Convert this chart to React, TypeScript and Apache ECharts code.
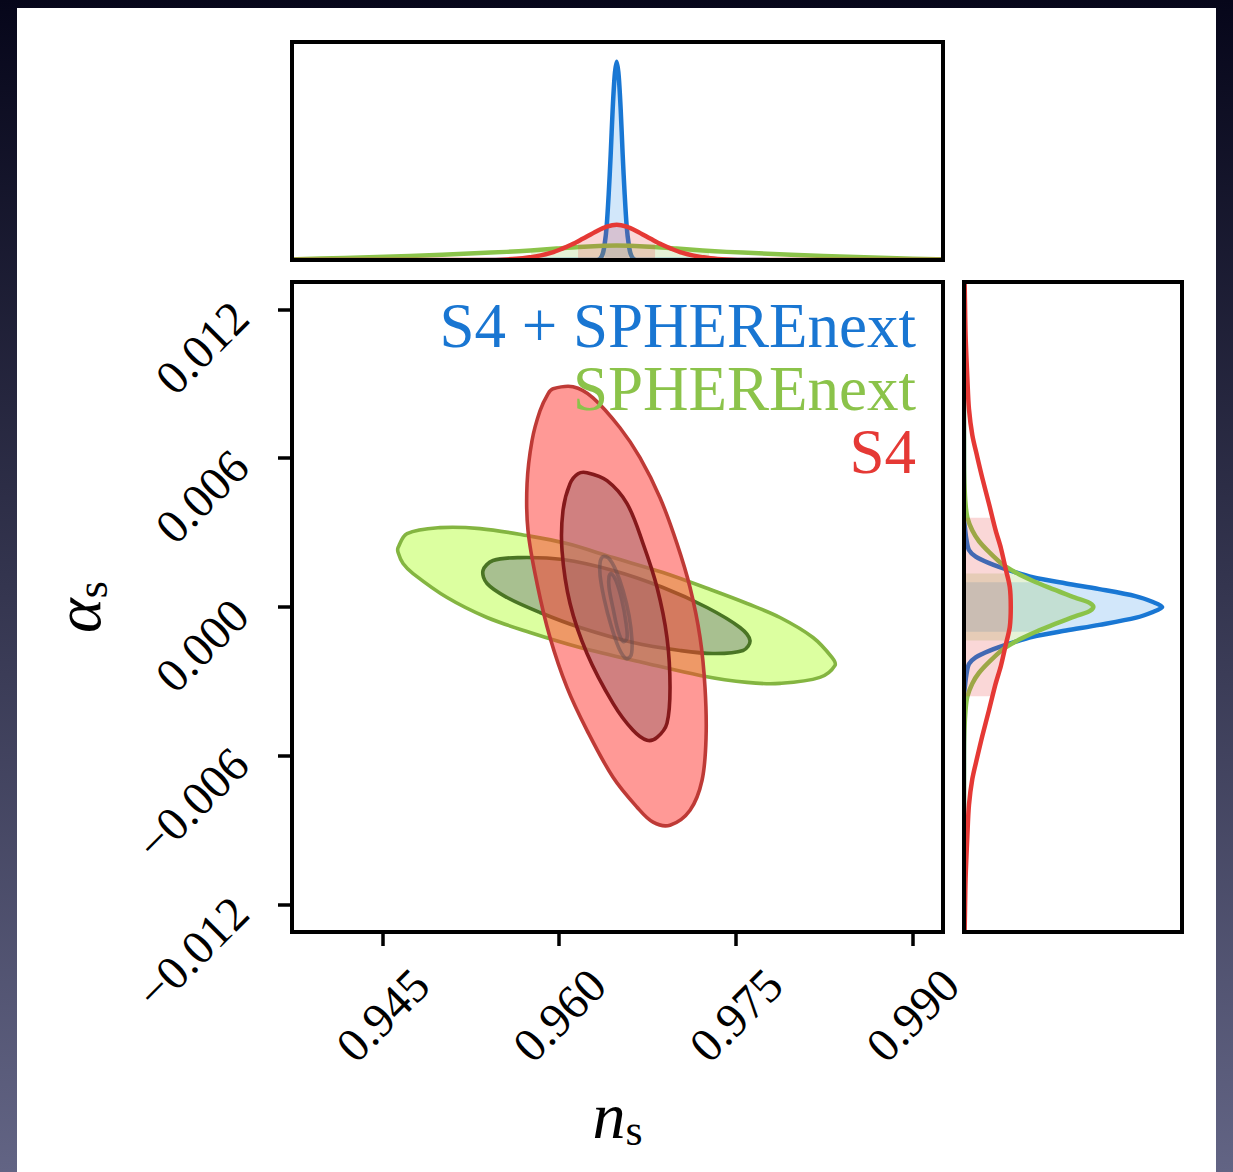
import React, { useEffect, useRef } from "react";
import * as echarts from "echarts";

// ---------- axes ----------
const NS_MIN = 0.93731;
const NS_MAX = 0.99259;
const AS_MIN = -0.0131;
const AS_MAX = 0.0131;
const NS_TICKS = [0.945, 0.96, 0.975, 0.99];
const AS_TICKS = [-0.012, -0.006, 0, 0.006, 0.012];
const DENS_MAX = 1.1;

// ---------- 2D contours [n_s, alpha_s] ----------
const greenOuter = [
  [0.94632, 0.002395], [0.94708, 0.002958], [0.94988, 0.0032], [0.95328, 0.00316],
  [0.95727, 0.002878], [0.96066, 0.002556], [0.96457, 0.001992], [0.96881, 0.001389],
  [0.97306, 0.000664], [0.97595, 0.000141], [0.97875, -0.000423], [0.98155, -0.001228],
  [0.98316, -0.002033], [0.98342, -0.002355], [0.98214, -0.002838], [0.97875, -0.003079],
  [0.97595, -0.003039], [0.97196, -0.002757], [0.96746, -0.002274], [0.96177, -0.00163],
  [0.95752, -0.001026], [0.95387, -0.000423], [0.95048, 0.000382], [0.94759, 0.001348],
  [0.94674, 0.001751], [0.94632, 0.002194],
];
const greenInner = [
  [0.95353, 0.001469], [0.95438, 0.001872], [0.95667, 0.001992], [0.96032, 0.001912],
  [0.96457, 0.001469], [0.96881, 0.000785], [0.97255, -0.00002], [0.97535, -0.000825],
  [0.9762, -0.001348], [0.97561, -0.001751], [0.97306, -0.001872], [0.97026, -0.001751],
  [0.96627, -0.001429], [0.96177, -0.000825], [0.95837, -0.000221], [0.95557, 0.000382],
  [0.95387, 0.000946],
];
const redOuter = [
  [0.95948, 0.008795], [0.96117, 0.008875], [0.96287, 0.008432], [0.96516, 0.007225],
  [0.96686, 0.006017], [0.96856, 0.004407], [0.97, 0.002556], [0.97111, 0.000785],
  [0.97196, -0.001228], [0.97238, -0.00324], [0.97247, -0.005253], [0.97213, -0.006983],
  [0.97111, -0.008191], [0.96941, -0.008795], [0.96797, -0.008674], [0.96661, -0.00807],
  [0.96457, -0.006863], [0.96236, -0.004971], [0.96066, -0.00324], [0.95922, -0.001228],
  [0.95812, 0.000946], [0.95735, 0.003079], [0.95727, 0.004971], [0.95769, 0.006702],
  [0.95837, 0.007909], [0.95905, 0.008593],
];
const redInner = [
  [0.96236, 0.005414], [0.96406, 0.005092], [0.96576, 0.004166], [0.96712, 0.002556],
  [0.96831, 0.000785], [0.96915, -0.001228], [0.96941, -0.00324], [0.96915, -0.004689],
  [0.96831, -0.005253], [0.96746, -0.005373], [0.96627, -0.004971], [0.96457, -0.003884],
  [0.96236, -0.001872], [0.96092, 0.000141], [0.96024, 0.002274], [0.96032, 0.003884],
  [0.96092, 0.004971], [0.9616, 0.005373],
];
const blueOuter = [
  [0.96372, 0.002033], [0.96423, 0.001952], [0.96482, 0.001469], [0.96542, 0.000664],
  [0.96593, -0.000342], [0.96618, -0.001348], [0.9661, -0.001952], [0.96567, -0.002073],
  [0.96508, -0.00167], [0.9644, -0.000745], [0.96381, 0.000342], [0.96347, 0.001268],
  [0.96347, 0.001791],
];
const blueInner = [
  [0.9644, 0.001348], [0.96482, 0.001067], [0.96533, 0.000262], [0.96567, -0.000624],
  [0.96576, -0.001268], [0.96542, -0.001389], [0.96499, -0.000946], [0.96457, -0.00006],
  [0.96423, 0.000785], [0.96423, 0.001228],
];

// ---------- 1D marginal of n_s (top panel) ----------
const NS_BLUE_X = [0.93731, 0.96301, 0.96344, 0.96369, 0.96386, 0.96403, 0.9642, 0.96437, 0.96454, 0.96471, 0.96488, 0.96505, 0.96522, 0.96539, 0.96556, 0.96573, 0.9659, 0.96607, 0.96632, 0.96675, 0.99259];
const NS_BLUE_Y = [0, 0, 0.005, 0.03, 0.08, 0.17, 0.33, 0.53, 0.76, 0.93, 1.0, 0.93, 0.76, 0.53, 0.33, 0.17, 0.08, 0.03, 0.005, 0, 0];
const NS_GREEN_X = [0.93731, 0.93771, 0.94179, 0.94731, 0.95282, 0.95554, 0.95758, 0.95979, 0.96165, 0.96335, 0.96488, 0.96641, 0.96811, 0.96997, 0.97218, 0.97422, 0.97694, 0.98245, 0.98797, 0.99205, 0.99259];
const NS_GREEN_Y = [0.003, 0.004, 0.01, 0.02, 0.034, 0.041, 0.048, 0.058, 0.066, 0.071, 0.073, 0.071, 0.066, 0.058, 0.048, 0.041, 0.034, 0.02, 0.01, 0.004, 0.003];
const NS_RED_X = [0.93731, 0.95384, 0.95554, 0.9569, 0.95834, 0.95936, 0.96021, 0.96106, 0.96199, 0.96318, 0.96403, 0.96488, 0.96573, 0.96658, 0.96777, 0.9687, 0.96955, 0.9704, 0.97142, 0.97286, 0.97422, 0.97592, 0.99259];
const NS_RED_Y = [0, 0, 0.003, 0.009, 0.022, 0.037, 0.056, 0.078, 0.107, 0.145, 0.168, 0.178, 0.168, 0.145, 0.107, 0.078, 0.056, 0.037, 0.022, 0.009, 0.003, 0, 0];
const NS_BLUE_BAND = [0.96386, 0.9659];
const NS_GREEN_BAND = [0.95761, 0.97272];
const NS_RED_BAND = [0.9616, 0.96814];

// ---------- 1D marginal of alpha_s (right panel) ----------
const AS_BLUE_A = [-0.0131, -0.0036, -0.0031, -0.00273, -0.0023, -0.00203, -0.00177, -0.00148, -0.0012, -0.00095, -0.00072, -0.00043, -0.00021, 0, 0.00021, 0.00043, 0.00072, 0.00095, 0.0012, 0.00148, 0.00177, 0.00203, 0.0023, 0.00273, 0.0031, 0.0036, 0.0131];
const AS_BLUE_D = [0, 0, 0.006, 0.012, 0.025, 0.059, 0.127, 0.228, 0.346, 0.515, 0.683, 0.869, 0.95, 1.0, 0.95, 0.869, 0.683, 0.515, 0.346, 0.228, 0.127, 0.059, 0.025, 0.012, 0.006, 0, 0];
const AS_GREEN_A = [-0.0131, -0.006, -0.005, -0.00413, -0.00361, -0.00308, -0.00265, -0.00221, -0.00172, -0.00139, -0.00106, -0.00078, -0.0005, -0.00035, -0.0002, -0.0001, 0, 0.0001, 0.0002, 0.00035, 0.0005, 0.00078, 0.00106, 0.00139, 0.00172, 0.00221, 0.00265, 0.00308, 0.00361, 0.00413, 0.005, 0.006, 0.0131];
const AS_GREEN_D = [0, 0, 0.002, 0.008, 0.017, 0.042, 0.076, 0.127, 0.194, 0.261, 0.346, 0.43, 0.52, 0.57, 0.625, 0.645, 0.653, 0.645, 0.625, 0.57, 0.52, 0.43, 0.346, 0.261, 0.194, 0.127, 0.076, 0.042, 0.017, 0.008, 0.002, 0, 0];
const AS_RED_A = [-0.0131, -0.0127, -0.01095, -0.0092, -0.00798, -0.00693, -0.00605, -0.00518, -0.00413, -0.00308, -0.00238, -0.00151, -0.00081, 0, 0.00081, 0.00151, 0.00238, 0.00308, 0.00413, 0.00518, 0.00605, 0.00693, 0.00798, 0.0092, 0.01095, 0.0127, 0.0131];
const AS_RED_D = [0.003, 0.004, 0.008, 0.017, 0.025, 0.042, 0.067, 0.093, 0.127, 0.16, 0.186, 0.211, 0.231, 0.236, 0.231, 0.211, 0.186, 0.16, 0.127, 0.093, 0.067, 0.042, 0.025, 0.017, 0.008, 0.004, 0.003];
const AS_BLUE_BAND = [-0.001, 0.001];
const AS_GREEN_BAND = [-0.00135, 0.00135];
const AS_RED_BAND = [-0.0036, 0.0036];

// ---------- legend ----------
const LEGEND_LABELS = ["S4 + SPHEREnext", "SPHEREnext", "S4"];
const LEGEND_KEYS = ["b", "g", "r"];

const BLUE = "#1976D2";
const GREEN = "#8BC34A";
const RED = "#E53935";
const LEGEND_COLORS = [BLUE, GREEN, RED];
const FONT = "'Liberation Serif', 'DejaVu Serif', serif";

const zip = (a: number[], b: number[]) => a.map((v, i) => [v, b[i]]);

function bandPoints(ts: number[], vs: number[], lo: number, hi: number) {
  const at = (t: number) => {
    for (let i = 0; i < ts.length - 1; i++) {
      if (t >= ts[i] && t <= ts[i + 1]) {
        const f = (t - ts[i]) / (ts[i + 1] - ts[i]);
        return vs[i] + f * (vs[i + 1] - vs[i]);
      }
    }
    return 0;
  };
  const out: number[][] = [[lo, at(lo)]];
  ts.forEach((t, i) => {
    if (t > lo && t < hi) out.push([t, vs[i]]);
  });
  out.push([hi, at(hi)]);
  return out;
}

function shapeSeries(points: number[][], axis: number, z: number, build: (pts: number[][]) => any) {
  return {
    type: "custom",
    xAxisIndex: axis,
    yAxisIndex: axis,
    z,
    silent: true,
    clip: true,
    data: points,
    renderItem: (params: any, api: any) => {
      if (params.dataIndex !== 0) return null;
      return build(points.map((p) => api.coord(p)));
    },
  };
}

function contourSeries(points: number[][], fill: string, stroke: string, z: number) {
  return shapeSeries(points, 0, z, (pts) => ({
    type: "polygon",
    shape: { points: pts, smooth: 0.35 },
    style: { fill, stroke, lineWidth: 3.6 },
  }));
}

function fillSeries(points: number[][], axis: number, fill: string, z: number) {
  return shapeSeries(points, axis, z, (pts) => ({
    type: "polygon",
    shape: { points: pts },
    style: { fill },
  }));
}

function curveSeries(points: number[][], axis: number, color: string, z: number) {
  return shapeSeries(points, axis, z, (pts) => ({
    type: "polyline",
    shape: { points: pts, smooth: 0.3 },
    style: { fill: "none", stroke: color, lineWidth: 4.5, lineJoin: "round" },
  }));
}

function topFill(xs: number[], ys: number[], band: number[], fill: string, z: number) {
  const pts = [[band[0], 0], ...bandPoints(xs, ys, band[0], band[1]), [band[1], 0]];
  return fillSeries(pts, 1, fill, z);
}

function rightFill(as: number[], ds: number[], band: number[], fill: string, z: number) {
  const bp = bandPoints(as, ds, band[0], band[1]).map((p) => [p[1], p[0]]);
  const pts = [[0, band[0]], ...bp, [0, band[1]]];
  return fillSeries(pts, 2, fill, z);
}

const tickFmt = (v: number) => (v < 0 ? "\u2212" : "") + Math.abs(v).toFixed(3);

const frame = { show: true, borderColor: "#000", borderWidth: 4, backgroundColor: "transparent", z: 10 };

const richName = {
  n: { fontFamily: FONT, fontStyle: "italic", fontSize: 66, color: "#000", padding: [0, 0, 4, 0] },
  s: { fontFamily: FONT, fontSize: 44, color: "#000", verticalAlign: "bottom" },
};

const legendRich: any = {};
LEGEND_KEYS.forEach((k, i) => {
  legendRich[k] = { fill: LEGEND_COLORS[i], fontFamily: FONT, fontSize: 63, lineHeight: 63, align: "right" };
});

const tickLabel = {
  formatter: tickFmt,
  rotate: 45,
  fontFamily: FONT,
  fontSize: 48,
  color: "#000",
};
const tickStyle = { show: true, length: 14, lineStyle: { color: "#000", width: 3.5 } };

const option: any = {
  animation: false,
  grid: [
    { left: 292, top: 282, width: 651, height: 650, ...frame },
    { left: 292, top: 42, width: 651, height: 218, ...frame },
    { left: 964, top: 282, width: 218, height: 650, ...frame },
  ],
  xAxis: [
    {
      gridIndex: 0,
      type: "value",
      min: NS_MIN,
      max: NS_MAX,
      axisLine: { show: false, onZero: false },
      splitLine: { show: false },
      axisTick: { ...tickStyle, customValues: NS_TICKS },
      axisLabel: { ...tickLabel, customValues: NS_TICKS, align: "center", verticalAlign: "middle", margin: 83 },
      name: "{n|n}{s|s}",
      nameLocation: "middle",
      nameGap: 185,
      nameTextStyle: { verticalAlign: "middle", align: "center", rich: richName },
    },
    { gridIndex: 1, type: "value", min: NS_MIN, max: NS_MAX, show: false },
    { gridIndex: 2, type: "value", min: 0, max: DENS_MAX, show: false },
  ],
  yAxis: [
    {
      gridIndex: 0,
      type: "value",
      min: AS_MIN,
      max: AS_MAX,
      axisLine: { show: false, onZero: false },
      splitLine: { show: false },
      axisTick: { ...tickStyle, customValues: AS_TICKS },
      axisLabel: { ...tickLabel, customValues: AS_TICKS, margin: 52, padding: [0, 0, 10, 0] },
      name: "{n|\u03b1}{s|s}",
      nameLocation: "middle",
      nameRotate: 90,
      nameGap: 213,
      nameTextStyle: { verticalAlign: "middle", align: "center", rich: richName },
    },
    { gridIndex: 1, type: "value", min: 0, max: DENS_MAX, show: false },
    { gridIndex: 2, type: "value", min: AS_MIN, max: AS_MAX, show: false },
  ],
  graphic: [
    {
      type: "text",
      x: 916,
      y: 294,
      z: 50,
      silent: true,
      style: {
        text: LEGEND_LABELS.map((l, i) => `{${LEGEND_KEYS[i]}|${l}}`).join("\n"),
        rich: legendRich,
        fontFamily: FONT,
        fontSize: 63,
        lineHeight: 63,
        align: "right",
        verticalAlign: "top",
      },
    },
  ],
  series: [
    // main panel contours
    contourSeries(greenOuter, "rgba(185,255,65,0.5)", "#84B541", 2),
    contourSeries(greenInner, "rgba(116,130,128,0.5)", "#4A7524", 3),
    contourSeries(redOuter, "rgba(255,51,45,0.5)", "#BE3A36", 4),
    contourSeries(redInner, "rgba(161,103,106,0.5)", "#85191B", 5),
    contourSeries(blueOuter, "rgba(90,80,100,0.08)", "rgba(100,75,80,0.5)", 6),
    contourSeries(blueInner, "rgba(90,80,100,0.08)", "rgba(100,75,80,0.5)", 7),
    // top marginal
    curveSeries(zip(NS_BLUE_X, NS_BLUE_Y), 1, BLUE, 3),
    topFill(NS_BLUE_X, NS_BLUE_Y, NS_BLUE_BAND, "rgba(30,136,229,0.2)", 4),
    curveSeries(zip(NS_GREEN_X, NS_GREEN_Y), 1, GREEN, 5),
    topFill(NS_GREEN_X, NS_GREEN_Y, NS_GREEN_BAND, "rgba(139,195,74,0.22)", 6),
    topFill(NS_RED_X, NS_RED_Y, NS_RED_BAND, "rgba(229,57,53,0.2)", 7),
    curveSeries(zip(NS_RED_X, NS_RED_Y), 1, RED, 8),
    // right marginal
    curveSeries(zip(AS_BLUE_D, AS_BLUE_A), 2, BLUE, 3),
    rightFill(AS_BLUE_A, AS_BLUE_D, AS_BLUE_BAND, "rgba(30,136,229,0.2)", 4),
    curveSeries(zip(AS_GREEN_D, AS_GREEN_A), 2, GREEN, 5),
    rightFill(AS_GREEN_A, AS_GREEN_D, AS_GREEN_BAND, "rgba(139,195,74,0.22)", 6),
    rightFill(AS_RED_A, AS_RED_D, AS_RED_BAND, "rgba(229,57,53,0.2)", 7),
    curveSeries(zip(AS_RED_D, AS_RED_A), 2, RED, 8),
  ],
};

export default function App() {
  const ref = useRef<HTMLDivElement>(null);
  useEffect(() => {
    document.body.style.margin = "0";
    const chart = echarts.init(ref.current as HTMLDivElement, undefined, {
      renderer: "svg",
      width: 1233,
      height: 1172,
    });
    chart.setOption(option);
    return () => chart.dispose();
  }, []);
  return (
    <div
      style={{
        position: "relative",
        width: 1233,
        height: 1172,
        overflow: "hidden",
        background: "linear-gradient(to bottom, #06061a 0%, #626484 100%)",
      }}
    >
      <div style={{ position: "absolute", left: 17, top: 8, width: 1199, height: 1164, background: "#ffffff" }} />
      <div ref={ref} style={{ position: "absolute", left: 0, top: 0, width: 1233, height: 1172 }} />
    </div>
  );
}
